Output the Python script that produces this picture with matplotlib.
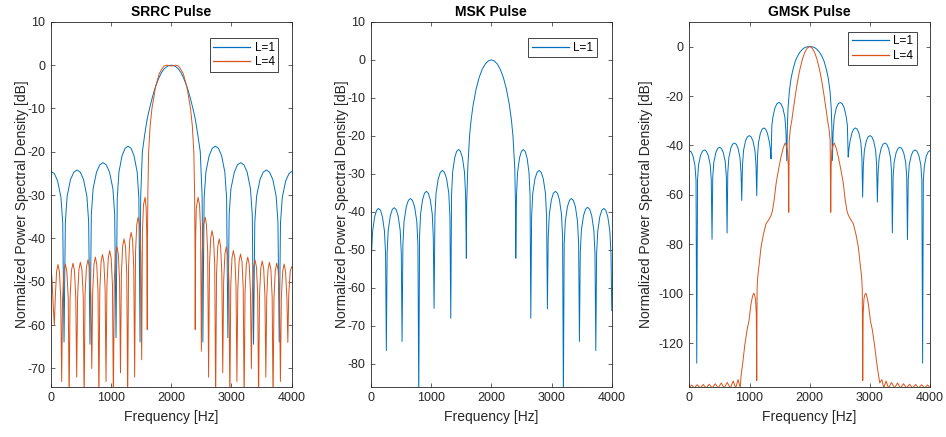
import matplotlib.pyplot as plt

plt.rcParams['font.family'] = ['Liberation Sans', 'DejaVu Sans']
plt.rcParams['axes.unicode_minus'] = False

BLUE = '#0072BD'
ORANGE = '#D95319'
AXC = '#262626'

freq_ticks = [0, 1000, 2000, 3000, 4000]

# SRRC pulse, L=1
srrc1_f = [0, 60, 114, 170, 200, 221,
           243, 273, 329, 383, 437, 491, 545, 600, 630, 652,
           674, 704, 760, 814, 868, 922, 976, 1032, 1062, 1084,
           1104, 1132, 1184, 1234, 1284, 1334, 1383, 1435, 1463, 1483,
           1487, 1494, 1521, 1560, 1600, 1640, 1680, 1720, 1760, 1800, 1840, 1880, 1920, 1960, 2000,
           2040, 2080, 2120, 2160, 2200, 2240, 2280, 2320, 2360, 2400, 2440, 2482, 2512, 2520, 2525,
           2546, 2575, 2629, 2681, 2732, 2784, 2836, 2890, 2919, 2940,
           2961, 2991, 3047, 3100, 3153, 3206, 3260, 3315, 3345, 3366,
           3387, 3417, 3473, 3526, 3579, 3632, 3686, 3741, 3771, 3792,
           3813, 3843, 3900, 3955, 4000]
srrc1_db = [-24.5, -25.0, -26.7, -30.5, -36.5, -63.9,
            -36.2, -30.2, -26.4, -24.7, -24.2, -24.7, -26.4, -30.2, -36.2, -64.4,
            -34.5, -28.5, -24.7, -23, -22.5, -23, -24.7, -28.5, -34.5, -62.9,
            -30.7, -24.7, -20.9, -19.2, -18.7, -19.2, -20.9, -24.7, -30.7, -63.9,
            -42, -30, -20, -16, -12.5, -10, -7.8, -5.8, -4.2, -2.8, -1.7, -0.9, -0.4, -0.1, 0,
            -0.1, -0.4, -0.9, -1.7, -2.8, -4.2, -5.8, -7.8, -10, -12.5, -16, -20, -30, -42, -63.9,
            -30.7, -24.7, -20.9, -19.2, -18.7, -19.2, -20.9, -24.7, -30.7, -62.9,
            -34.5, -28.5, -24.7, -23, -22.5, -23, -24.7, -28.5, -34.5, -64.4,
            -36.2, -30.2, -26.4, -24.7, -24.2, -24.7, -26.4, -30.2, -36.2, -63.9,
            -36.5, -30.5, -26.7, -25.0, -24.5]

# SRRC pulse, L=4
srrc4_f = [0, 20, 40, 60,
           75, 97, 121, 145, 167, 182,
           197, 219, 243, 268, 291, 306,
           321, 344, 370, 394, 416, 431,
           446, 468, 492, 518, 540, 555,
           570, 593, 619, 644, 667, 682,
           697, 718, 741, 764, 785, 800,
           815, 836, 859, 882, 903, 918,
           933, 955, 979, 1003, 1025, 1040,
           1055, 1076, 1099, 1122, 1143, 1158,
           1173, 1194, 1217, 1241, 1262, 1277,
           1292, 1312, 1335, 1358, 1378, 1393,
           1408, 1428, 1451, 1474, 1495, 1510,
           1522, 1540, 1566, 1584, 1595, 1602,
           1606, 1612, 1625, 1650, 1680, 1740, 1800, 1850, 1880, 1930, 1970, 2000,
           2030, 2070, 2120, 2150, 2200, 2260, 2320, 2350, 2375, 2388, 2394, 2398,
           2405, 2416, 2445, 2470, 2488, 2500,
           2515, 2536, 2565, 2584, 2605, 2620,
           2635, 2655, 2678, 2701, 2722, 2737,
           2752, 2773, 2796, 2819, 2840, 2855,
           2870, 2891, 2914, 2937, 2958, 2973,
           2988, 3008, 3031, 3055, 3075, 3090,
           3105, 3126, 3150, 3174, 3195, 3210,
           3225, 3246, 3270, 3294, 3315, 3330,
           3345, 3366, 3390, 3414, 3435, 3450,
           3465, 3486, 3510, 3534, 3555, 3570,
           3585, 3606, 3630, 3654, 3675, 3690,
           3705, 3727, 3751, 3775, 3797, 3812,
           3827, 3849, 3873, 3897, 3920, 3935,
           3950, 3975, 4000]
srrc4_db = [-46.8, -49, -55, -60,
            -54, -47.7, -46.0, -47.7, -54, -73,
            -53.9, -47.6, -45.9, -47.6, -53.9, -78,
            -53.7, -47.4, -45.7, -47.4, -53.7, -72,
            -53.5, -47.2, -45.5, -47.2, -53.5, -78,
            -52.9, -46.6, -44.9, -46.6, -52.9, -70,
            -52.3, -46, -44.3, -46, -52.3, -78,
            -51.7, -45.4, -43.7, -45.4, -51.7, -73,
            -50.8, -44.5, -42.8, -44.5, -50.8, -78,
            -49.9, -43.6, -41.9, -43.6, -49.9, -71,
            -48.1, -41.8, -40.1, -41.8, -48.1, -78,
            -46.6, -40.3, -38.6, -40.3, -46.6, -72,
            -43.1, -36.8, -35.1, -36.8, -43.1, -68,
            -38.5, -32.2, -30.5, -33, -40, -61,
            -40, -30, -20, -14, -10, -5, -2, -0.8, -0.2, 0, -0.15, -0.2,
            -0.15, 0, -0.2, -0.8, -2, -5, -10, -14, -20, -30, -40, -61,
            -40, -33, -30.5, -32.2, -38.5, -66,
            -43.1, -36.8, -35.1, -36.8, -43.1, -72,
            -46.2, -39.9, -38.2, -39.9, -46.2, -78,
            -48.1, -41.8, -40.1, -41.8, -48.1, -71,
            -49.9, -43.6, -41.9, -43.6, -49.9, -78,
            -50.8, -44.5, -42.8, -44.5, -50.8, -73,
            -51.6, -45.3, -43.6, -45.3, -51.6, -78,
            -52.3, -46, -44.3, -46, -52.3, -70,
            -52.9, -46.6, -44.9, -46.6, -52.9, -78,
            -53.2, -46.9, -45.2, -46.9, -53.2, -72,
            -53.5, -47.2, -45.5, -47.2, -53.5, -78,
            -53.7, -47.4, -45.7, -47.4, -53.7, -73,
            -53.9, -47.6, -45.9, -47.6, -53.9, -64,
            -53, -47.5, -46.5]

# MSK pulse, L=1
msk_f = [0, 13, 31, 65, 97, 130, 162, 194, 228, 246, 259,
         272, 290, 324, 357, 390, 422, 455, 489, 507, 520,
         534, 553, 589, 624, 659, 693, 728, 764, 783, 797,
         810, 827, 860, 892, 924, 956, 988, 1021, 1038, 1051,
         1065, 1084, 1120, 1155, 1190, 1224, 1259, 1295, 1314, 1328,
         1341, 1359, 1393, 1425, 1458, 1490, 1522, 1556, 1574, 1587,
         1592, 1610, 1640, 1665, 1700, 1750, 1800, 1850, 1900, 1950, 2000,
         2050, 2100, 2150, 2200, 2250, 2300, 2335, 2360, 2390, 2402, 2407,
         2419, 2437, 2469, 2500, 2531, 2563, 2594, 2626, 2644, 2656,
         2670, 2689, 2725, 2760, 2794, 2829, 2863, 2899, 2918, 2932,
         2945, 2964, 2998, 3031, 3064, 3098, 3131, 3165, 3184, 3197,
         3210, 3229, 3263, 3297, 3330, 3363, 3397, 3431, 3450, 3463,
         3477, 3496, 3531, 3565, 3599, 3633, 3667, 3702, 3721, 3735,
         3748, 3767, 3801, 3834, 3868, 3901, 3934, 3968, 3987, 4000]
msk_db = [-66, -51.1, -45.1, -41.3, -39.6, -39.1, -39.6, -41.3, -45.1, -51.1, -76.5,
          -50.9, -44.9, -41.1, -39.4, -38.9, -39.4, -41.1, -44.9, -50.9, -74.1,
          -48.5, -42.5, -38.7, -37, -36.5, -37, -38.7, -42.5, -48.5, -90,
          -46.6, -40.6, -36.8, -35.1, -34.6, -35.1, -36.8, -40.6, -46.6, -65.4,
          -41.1, -35.1, -31.3, -29.6, -29.1, -29.6, -31.3, -35.1, -41.1, -68,
          -35.6, -29.6, -25.8, -24.1, -23.6, -24.1, -25.8, -29.6, -35.6, -52.2,
          -38, -28.5, -20, -15.9, -11.8, -7.6, -4.6, -2.5, -1.1, -0.3, 0,
          -0.3, -1.1, -2.5, -4.6, -7.6, -11.8, -15.9, -20, -28.5, -38, -52.2,
          -35.6, -29.6, -25.8, -24.1, -23.6, -24.1, -25.8, -29.6, -35.6, -68,
          -41.1, -35.1, -31.3, -29.6, -29.1, -29.6, -31.3, -35.1, -41.1, -65.5,
          -46.6, -40.6, -36.8, -35.1, -34.6, -35.1, -36.8, -40.6, -46.6, -90,
          -48.5, -42.5, -38.7, -37, -36.5, -37, -38.7, -42.5, -48.5, -74.1,
          -50.8, -44.8, -41, -39.3, -38.8, -39.3, -41, -44.8, -50.8, -76.5,
          -51.1, -45.1, -41.3, -39.6, -39.1, -39.6, -41.3, -45.1, -51.1, -66]

# GMSK pulse, L=1
gmsk1_f = [0, 31, 62, 93, 111, 123,
           136, 153, 186, 218, 250, 282, 314, 347, 364, 377,
           389, 407, 440, 471, 502, 533, 565, 597, 615, 627,
           639, 656, 688, 718, 749, 780, 810, 842, 859, 871,
           883, 901, 933, 964, 995, 1026, 1058, 1090, 1108, 1120,
           1132, 1149, 1180, 1209, 1239, 1269, 1298, 1329, 1346, 1358,
           1371, 1389, 1423, 1456, 1489, 1521, 1554, 1588, 1606, 1619,
           1630, 1640, 1662, 1690, 1720, 1760, 1800, 1840, 1880, 1920, 1960, 2000,
           2040, 2080, 2120, 2160, 2200, 2240, 2280, 2310, 2338, 2358, 2368, 2377,
           2390, 2409, 2443, 2476, 2509, 2541, 2574, 2608, 2627, 2640,
           2652, 2669, 2700, 2730, 2760, 2790, 2820, 2851, 2868, 2880,
           2892, 2909, 2941, 2972, 3003, 3033, 3064, 3096, 3113, 3125,
           3137, 3155, 3187, 3218, 3250, 3281, 3312, 3344, 3362, 3374,
           3387, 3404, 3437, 3468, 3500, 3531, 3562, 3595, 3613, 3625,
           3638, 3655, 3688, 3720, 3751, 3782, 3814, 3847, 3864, 3877,
           3889, 3907, 3938, 3969, 4000]
gmsk1_db = [-42.1, -42.6, -44.3, -48.1, -54.1, -128,
            -53.8, -47.8, -44, -42.3, -41.8, -42.3, -44, -47.8, -53.8, -77.9,
            -52.7, -46.7, -42.9, -41.2, -40.7, -41.2, -42.9, -46.7, -52.7, -75.4,
            -51, -45, -41.2, -39.5, -39, -39.5, -41.2, -45, -51, -62.2,
            -48, -42, -38.2, -36.5, -36, -36.5, -38.2, -42, -48, -60.3,
            -44.9, -38.9, -35.1, -33.4, -32.9, -33.4, -35.1, -38.5, -41.5, -45.4,
            -32, -28.5, -24.8, -23.1, -22.6, -23.1, -24.8, -28.6, -34.6, -46.1,
            -32, -25, -18, -13, -9.5, -6, -3.8, -2.2, -1.1, -0.4, -0.1, 0,
            -0.1, -0.4, -1.1, -2.2, -3.8, -6, -9.5, -13, -18, -25, -32, -46.1,
            -34.6, -28.6, -24.8, -23.1, -22.6, -23.1, -24.8, -28.5, -32, -44.7,
            -41.5, -38.5, -35.1, -33.4, -32.9, -33.4, -35.1, -38.9, -44.9, -60.9,
            -48, -42, -38.2, -36.5, -36, -36.5, -38.2, -42, -48, -62.9,
            -51, -45, -41.2, -39.5, -39, -39.5, -41.2, -45, -51, -75.3,
            -52.7, -46.7, -42.9, -41.2, -40.7, -41.2, -42.9, -46.7, -52.7, -78,
            -53.8, -47.8, -44, -42.3, -41.8, -42.3, -44, -47.8, -53.8, -128,
            -54.1, -48.1, -44.3, -42.6, -42.1]

# GMSK pulse, L=4
gmsk4_f = [0, 40, 80, 130, 180, 230, 280, 330, 380, 430, 480, 530, 580, 630, 680, 730, 770, 810, 845,
           860, 887, 920, 959, 990, 1025, 1045, 1065, 1080, 1100, 1113, 1120, 1126, 1137, 1160, 1192,
           1230, 1275, 1320, 1358, 1380, 1410, 1441, 1480, 1520, 1560, 1591, 1610, 1630, 1645, 1652,
           1660, 1680, 1702, 1730, 1760, 1795, 1830, 1880, 1920, 1960, 2000,
           2040, 2080, 2120, 2170, 2205, 2240, 2270, 2298, 2320, 2340, 2350,
           2357, 2370, 2390, 2408, 2440, 2480, 2520, 2560, 2590, 2620, 2645, 2685, 2725, 2770, 2808,
           2840, 2863, 2874, 2882, 2889, 2902, 2920, 2937, 2955, 2975, 3010, 3042, 3080, 3115, 3145, 3165,
           3200, 3230, 3270, 3310, 3360, 3410, 3460, 3510, 3560, 3610, 3660, 3710, 3760, 3810, 3860, 3910, 3960, 4000]
gmsk4_db = [-137.8, -136.8, -138, -136.7, -138, -136.6, -138, -136.5, -138, -136.3, -138, -136, -138, -135.8, -138, -135.2, -138, -134.6, -138,
            -133, -128, -121, -114.6, -111, -104, -101.5, -99.8, -100, -102, -108, -135, -98, -93.1, -88, -81,
            -76, -71.6, -70, -68.3, -66.5, -62, -55.5, -50, -45, -41, -39, -39.8, -42, -48, -67,
            -38, -33, -30, -25, -20, -14.5, -10, -5, -2.3, -0.6, 0,
            -0.6, -2.3, -5, -10, -14.5, -20, -25, -30, -33, -38, -67,
            -48, -42, -39.8, -39, -41, -45, -50, -55.5, -62, -66.5, -68.3, -70, -71.6, -76, -81,
            -88, -93.1, -98, -135, -108, -102, -100, -99.8, -101.5, -104, -111, -114.6, -121, -128, -133, -136,
            -134.6, -138, -135.2, -138, -135.8, -138, -136, -138, -136.3, -138, -136.5, -138, -136.6, -138, -136.7, -138, -136.8, -137.8]


def style(ax, title, ylim, yticks, legend_anchor, ypad):
    ax.set_xlim(0, 4000)
    ax.set_ylim(*ylim)
    ax.set_xticks(freq_ticks)
    ax.set_yticks(yticks)
    ax.tick_params(direction='in', top=True, right=True, length=3, width=0.5,
                   labelsize=9, colors=AXC, pad=4)
    for s in ax.spines.values():
        s.set_linewidth(0.6)
        s.set_color(AXC)
    ax.set_title(title, fontsize=10, fontweight='bold', color='black', pad=4)
    ax.set_xlabel('Frequency [Hz]', fontsize=10, color=AXC)
    ax.set_ylabel('Normalized Power Spectral Density [dB]', fontsize=10, color=AXC,
                  labelpad=ypad)
    leg = ax.legend(loc='upper right', bbox_to_anchor=legend_anchor, borderaxespad=0,
                    fontsize=8.5, handlelength=3.1, fancybox=False, framealpha=1,
                    edgecolor=AXC, borderpad=0.3, labelspacing=0.2, handletextpad=0.4)
    leg.get_frame().set_linewidth(0.6)
    for line in leg.get_lines():
        line.set_linewidth(0.9)


fig = plt.figure(figsize=(9.46, 4.37), dpi=100)

ax1 = fig.add_axes([0.0536, 0.1151, 0.2548, 0.835])
ax1.plot(srrc1_f, srrc1_db, color=BLUE, lw=0.7, label='L=1')
ax1.plot(srrc4_f, srrc4_db, color=ORANGE, lw=0.7, label='L=4')
style(ax1, 'SRRC Pulse', (-74.2, 10), range(-70, 11, 10), (0.944, 0.9545), -1)

ax2 = fig.add_axes([0.3919, 0.1151, 0.2548, 0.835])
ax2.plot(msk_f, msk_db, color=BLUE, lw=0.7, label='L=1')
style(ax2, 'MSK Pulse', (-86, 10), range(-80, 11, 10), (0.938, 0.9545), -1)

ax3 = fig.add_axes([0.7287, 0.1151, 0.2544, 0.835])
ax3.plot(gmsk1_f, gmsk1_db, color=BLUE, lw=0.7, label='L=1')
ax3.plot(gmsk4_f, gmsk4_db, color=ORANGE, lw=0.7, label='L=4')
style(ax3, 'GMSK Pulse', (-137.5, 10), range(-120, 1, 20), (0.945, 0.9726), 4)

fig.savefig('out.png', dpi=100)
